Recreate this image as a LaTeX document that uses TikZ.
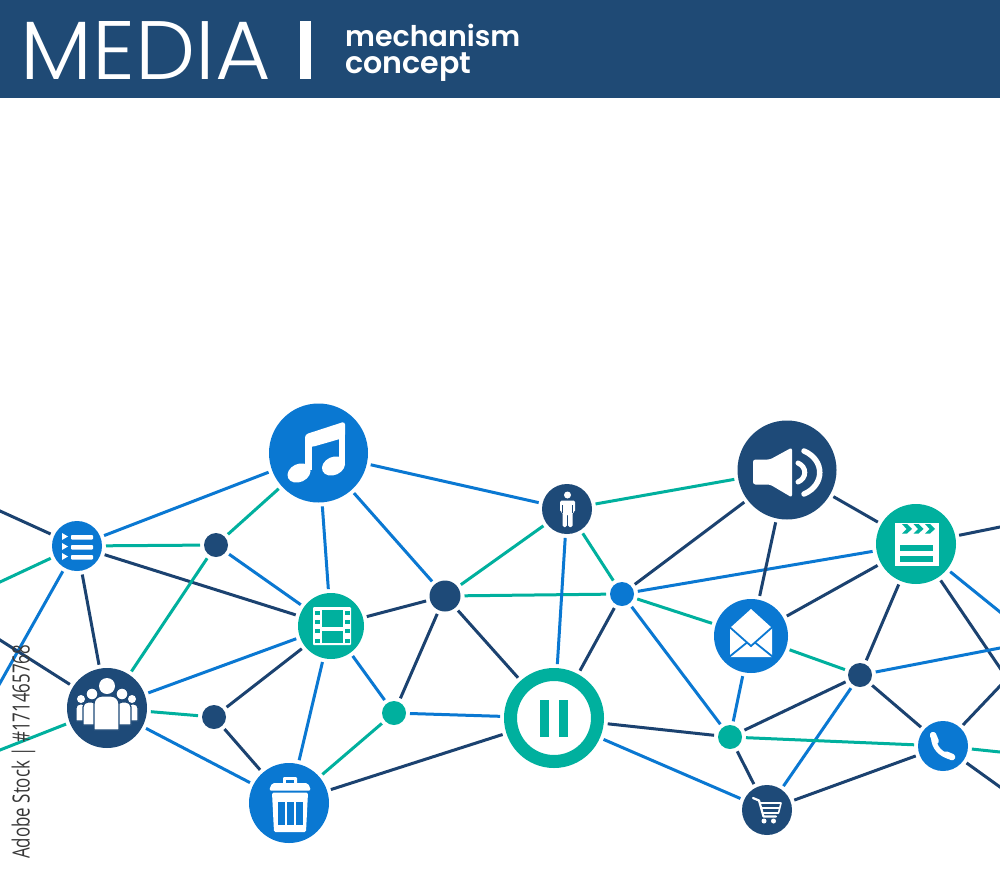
\documentclass[tikz,border=0pt]{standalone}
\usepackage{graphicx}
\usepackage{fontspec}
\setmainfont{Poppins}
\newfontfamily\creditfont{Open Sans}
\definecolor{hdr}{HTML}{1F4A75}
\definecolor{navy}{HTML}{1E4A78}
\definecolor{navyl}{HTML}{1B4270}
\definecolor{blu}{HTML}{0A78D2}
\definecolor{teal2}{HTML}{00B09E}
\tikzset{
  hub/.style={circle,inner sep=0pt,outer sep=4pt,minimum size=#1},
  bluehub/.style={hub=#1,fill=blu},
  navyhub/.style={hub=#1,fill=navy},
  tealhub/.style={hub=#1,fill=teal2},
  ringhub/.style={circle,inner sep=0pt,outer sep=10.5pt,minimum size=#1,fill=white,draw=teal2,line width=13pt},
  lb/.style={draw=blu,line width=3pt},
  ln/.style={draw=navyl,line width=3pt},
  lt/.style={draw=teal2,line width=3pt},
  offpage/.style={shorten >=-8pt},
  icon/.style={fill=white,draw=none}
}
\begin{document}
\begin{tikzpicture}[x=1pt,y=-1pt]
\useasboundingbox (0,0) rectangle (1000,875);
\clip (0,0) rectangle (1000,875);
\fill[white] (0,0) rectangle (1000,875);
\fill[hdr] (0,0) rectangle (1000,98);
\node[anchor=base west,inner sep=0pt,text=white] (title) at (20.5,79) {\resizebox{250pt}{58pt}{\fontspec{Poppins Light}MEDIA}};
\fill[white] (300,21.5) rectangle (311,79);
\node[anchor=base west,inner sep=0pt,text=white] (sub1) at (345,47) {\resizebox{175pt}{!}{\fontspec{Poppins SemiBold}mechanism}};
\node[anchor=base west,inner sep=0pt,text=white] (sub2) at (345,74) {\resizebox{126pt}{!}{\fontspec{Poppins SemiBold}concept}};

% hubs
\node[bluehub=99] (music) at (318.5,453) {};
\node[bluehub=50] (list) at (77,546) {};
\node[navyhub=24] (d1) at (216,545) {};
\node[tealhub=66] (film) at (331,626) {};
\node[navyhub=80] (people) at (107,708) {};
\node[navyhub=24] (d2) at (214,717) {};
\node[bluehub=80] (trash) at (289,803) {};
\node[tealhub=24] (g1) at (394,713) {};
\node[navyhub=31] (d0) at (445,596) {};
\node[navyhub=50] (person) at (567,509) {};
\node[bluehub=24] (b1) at (622,594) {};
\node[ringhub=87] (pause) at (554,718) {};
\node[navyhub=99] (speaker) at (787,470) {};
\node[tealhub=80] (clap) at (916,544) {};
\node[bluehub=74] (mail) at (751,636) {};
\node[navyhub=24] (d3) at (860,675) {};
\node[tealhub=24] (g2) at (730,737) {};
\node[bluehub=50] (phone) at (943,746) {};
\node[navyhub=50] (cart) at (767,810) {};

% free ends
\coordinate (f1) at (0,511);
\coordinate (f2) at (0,582);
\coordinate (f3) at (0,683);
\coordinate (f4) at (0,640);
\coordinate (f5) at (0,750);
\coordinate (f6) at (1000,527);
\coordinate (f7) at (1000,612);
\coordinate (f8) at (1000,668);
\coordinate (f9) at (1000,648);
\coordinate (f10) at (1000,686);
\coordinate (f11) at (1000,752);
\coordinate (f12) at (1000,787);

% connectors
\draw[ln,offpage] (list)--(f1);
\draw[lt,offpage] (list)--(f2);
\draw[lb,offpage] (list)--(f3);
\draw[ln,offpage] (people)--(f4);
\draw[lt,offpage] (people)--(f5);
\draw[ln,offpage] (clap)--(f6);
\draw[lb,offpage] (clap)--(f7);
\draw[ln,offpage] (clap)--(f8);
\draw[lb,offpage] (d3)--(f9);
\draw[ln,offpage] (phone)--(f10);
\draw[lt,offpage] (phone)--(f11);
\draw[ln,offpage] (phone)--(f12);

\draw[lb] (list)--(music);
\draw[lt] (list)--(d1);
\draw[ln] (list)--(film);
\draw[ln] (list)--(people);
\draw[lt] (d1)--(music);
\draw[lb] (d1)--(film);
\draw[lt] (d1)--(people);
\draw[lb] (music)--(film);
\draw[lb] (music)--(d0);
\draw[lb] (music)--(person);
\draw[ln] (film)--(d0);
\draw[lb] (film)--(people);
\draw[ln] (film)--(d2);
\draw[lb] (film)--(trash);
\draw[lb] (film)--(g1);
\draw[lt] (people)--(d2);
\draw[lb] (people)--(trash);
\draw[ln] (d2)--(trash);
\draw[lt] (trash)--(g1);
\draw[ln] (trash)--(pause);
\draw[lb] (g1)--(pause);
\draw[ln] (g1)--(d0);
\draw[lt] (d0)--(person);
\draw[lt] (d0)--(b1);
\draw[ln] (d0)--(pause);
\draw[lb] (person)--(pause);
\draw[lt] (person)--(b1);
\draw[lt] (person)--(speaker);
\draw[ln] (b1)--(pause);
\draw[ln] (b1)--(speaker);
\draw[lb] (b1)--(clap);
\draw[lt] (b1)--(mail);
\draw[lb] (b1)--(g2);
\draw[ln] (speaker)--(mail);
\draw[ln] (speaker)--(clap);
\draw[ln] (mail)--(clap);
\draw[lt] (mail)--(d3);
\draw[lb] (mail)--(g2);
\draw[ln] (clap)--(d3);
\draw[ln] (d3)--(g2);
\draw[lb] (d3)--(cart);
\draw[ln] (d3)--(phone);
\draw[ln] (g2)--(pause);
\draw[lt] (g2)--(phone);
\draw[ln] (g2)--(cart);
\draw[lb] (cart)--(pause);
\draw[ln] (cart)--(phone);

% music icon
\fill[icon,rotate around={25:(299,473)}] (299,473) ellipse (12 and 9);
\fill[icon,rotate around={25:(333.5,466)}] (333.5,466) ellipse (12 and 9);
\draw[white,line width=7pt] (308.5,470)--(308.5,437);
\draw[white,line width=5.5pt] (342.2,464)--(342.2,426);
\fill[icon,rounded corners=3] (305,446)--(305,434.5)--(345,421.5)--(345,437.5)--(312,447)--cycle;

% film icon
\fill[icon,rounded corners=1] (313,607) rectangle (351,645);
\fill[teal2] (322,610) rectangle (343,627);
\fill[teal2] (322,631) rectangle (343,643);
\foreach \yy in {611,620,629,639}{
  \fill[teal2] (315,\yy) rectangle (320,\yy+4);
  \fill[teal2] (345,\yy) rectangle (349.5,\yy+4);
}

% list icon
\foreach \yy in {533,543,553}{
  \fill[icon] (62,\yy)--(68,\yy+3.5)--(62,\yy+7)--cycle;
  \fill[icon,rounded corners=0.8] (71,\yy+2) rectangle (93,\yy+6.5);
}

% people icon
\begin{scope}[line width=1.2pt]
\path[fill=white,draw=navy] (76,721) [rounded corners=4] -- (76,704)--(86,704) [sharp corners] --(86,721)--cycle;
\path[fill=white,draw=navy] (138,721) [rounded corners=4] -- (138,704)--(128,704) [sharp corners] --(128,721)--cycle;
\fill[white] (81,699) circle (4);
\fill[white] (132,699) circle (4);
\path[fill=white,draw=navy] (83,725) [rounded corners=5] -- (83,702)--(97,702) [sharp corners] --(97,725)--cycle;
\path[fill=white,draw=navy] (131,725) [rounded corners=5] -- (131,702)--(117,702) [sharp corners] --(117,725)--cycle;
\path[fill=white,draw=navy] (92,694) circle (6);
\path[fill=white,draw=navy] (122,694) circle (6);
\path[fill=white,draw=navy] (94,730) [rounded corners=8] -- (94,696)--(119,696) [sharp corners] --(119,730)--cycle;
\fill[white] (107,686) circle (8);
\end{scope}

% trash icon
\fill[icon,rounded corners=1] (283,777) rectangle (297,784);
\fill[blu] (286,779.5) rectangle (294,783);
\fill[icon,rounded corners=2] (269,790.5)--(272,783)--(308,783)--(311,790.5)--cycle;
\fill[icon,rounded corners=1.5] (272,792.5)--(308,792.5)--(306,832)--(274,832)--cycle;
\fill[blu] (278,802) rectangle (284.5,825);
\fill[blu] (287,802) rectangle (293.5,825);
\fill[blu] (296,802) rectangle (302.5,825);

% pause icon
\fill[teal2] (540,700) rectangle (549,737);
\fill[teal2] (558.5,700) rectangle (567.5,737);

% person icon
\fill[icon] (567.5,495) circle (3.5);
\fill[icon,rounded corners=1.5] (560,500.5)--(575,500.5)--(575,512)--(572.5,512)--(572.5,527)--(568.2,527)--(568.2,514)--(566.8,514)--(566.8,527)--(562.5,527)--(562.5,512)--(560,512)--cycle;
\draw[navy,line width=0.7pt] (562.8,505)--(562.8,512.5);
\draw[navy,line width=0.7pt] (572.2,505)--(572.2,512.5);

% speaker icon
\fill[icon,rounded corners=2.5] (753,459.5)--(770,459.5)--(792,447.5)--(792,497.5)--(770,484.5)--(753,484.5)--cycle;
\draw[white,line width=5pt,line cap=round] (798,463) .. controls (807,467) and (807,478) .. (798,482);
\draw[white,line width=5.5pt,line cap=round] (804,451) .. controls (825,460) and (825,485) .. (804,494);

% clapper icon
\fill[icon] (895,523) rectangle (939,565.5);
\foreach \xx in {902,913.5,925}{
  \fill[teal2] (\xx,524)--(\xx+5,524)--(\xx+10,529)--(\xx+5,533.5)--(\xx,533.5)--(\xx+4.5,529)--cycle;
}
\fill[teal2] (900,544.5) rectangle (933,550.5);
\fill[teal2] (900,555.5) rectangle (933,561.5);

% mail icon
\fill[icon] (730,657) -- (730,628) -- (751,609) -- (772,628) -- (772,657) -- cycle;
\draw[blu,line width=1.8pt] (729,626.5)--(751,646)--(773,626.5);
\draw[blu,line width=1.8pt] (729,657)--(747,642.5);
\draw[blu,line width=1.8pt] (773,657)--(755,642.5);

% phone icon
\draw[white,line width=5pt,line cap=round] (933.5,737) .. controls (933.5,747) and (941,755.5) .. (951,756.5);
\draw[white,line width=6.5pt,line cap=round] (933,735)--(935.5,741);
\draw[white,line width=6.5pt,line cap=round] (946,754.5)--(952,757);

% cart icon
\draw[white,line width=2.2pt,line cap=round,line join=round] (753,798)--(759,800.5)--(763.5,816.5)--(776,816.5);
\draw[white,line width=1.6pt,line join=round] (760,803)--(781,803)--(778.5,813)--(762.5,813);
\draw[white,line width=1.6pt] (761,808)--(780,808);
\fill[icon] (764,821) circle (2.5);
\fill[icon] (773.5,821) circle (2.5);

% credit
\node[anchor=base west,rotate=90,inner sep=0pt,text=black!78] (credit) at (29.5,859) {\resizebox{214pt}{18pt}{\creditfont Adobe Stock | \#171465768}};
\end{tikzpicture}
\end{document}
